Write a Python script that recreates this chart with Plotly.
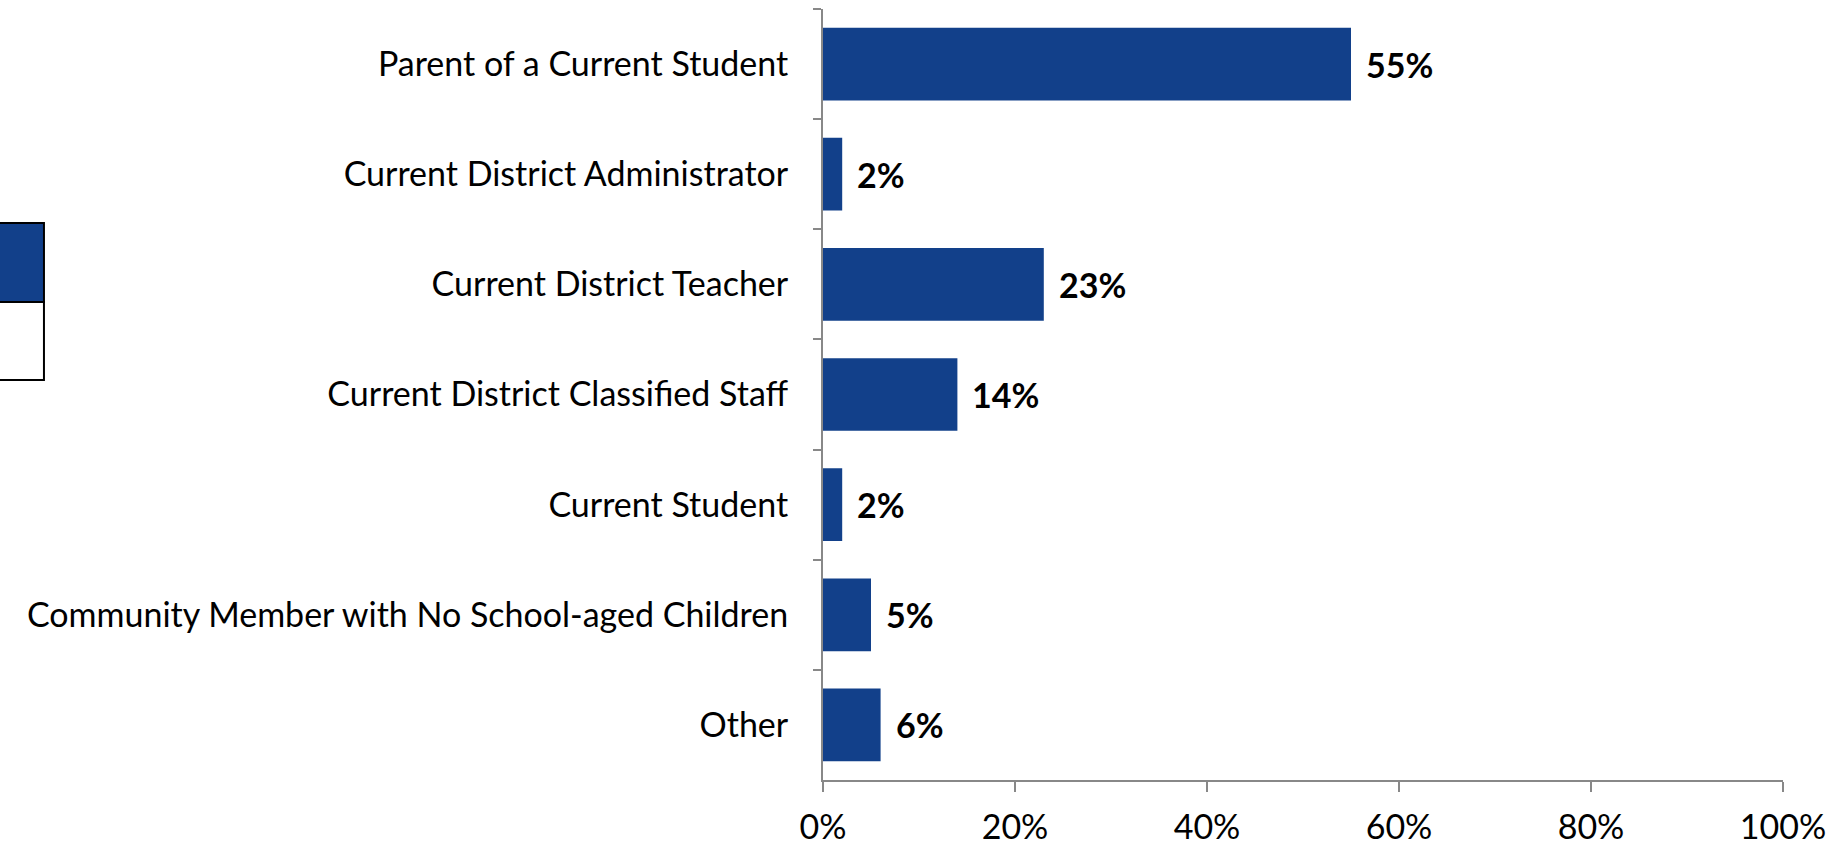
import plotly.graph_objects as go

categories = [
    "Parent of a Current Student",
    "Current District Administrator",
    "Current District Teacher",
    "Current District Classified Staff",
    "Current Student",
    "Community Member with No School-aged Children",
    "Other",
]
values = [0.55, 0.02, 0.23, 0.14, 0.02, 0.05, 0.06]
x_ticks = [0, 0.2, 0.4, 0.6, 0.8, 1.0]

BAR = "#12408A"
FONT = "Lato, Carlito, Calibri, sans-serif"
FS = 34

fig = go.Figure()
fig.add_trace(go.Bar(
    y=categories, x=values, orientation="h",
    marker=dict(color=BAR, line=dict(width=0)),
    hoverinfo="skip",
))

for c, v in zip(categories, values):
    fig.add_annotation(
        x=v, y=c, xref="x", yref="y", text="<b>%d%%</b>" % round(v * 100),
        showarrow=False, xanchor="left", xshift=13,
        font=dict(family=FONT, size=FS, color="black"),
    )

# partial legend box at the left edge
L, R = -0.9, -0.8115
fig.add_shape(type="rect", xref="paper", yref="paper", x0=L, x1=R, y0=0.620, y1=0.7224,
              fillcolor=BAR, line=dict(color="black", width=2), layer="above")
fig.add_shape(type="rect", xref="paper", yref="paper", x0=L, x1=R, y0=0.5188, y1=0.620,
              fillcolor="white", line=dict(color="black", width=2), layer="above")

fig.update_layout(
    width=1848, height=846,
    margin=dict(l=823, r=65, t=9, b=66, autoexpand=False),
    paper_bgcolor="white", plot_bgcolor="white",
    showlegend=False, bargap=0.34,
    font=dict(family=FONT, size=FS, color="black"),
)
fig.update_yaxes(
    autorange="reversed", showline=True, linecolor="#888888", linewidth=2,
    ticks="outside", tickson="boundaries", ticklen=8, tickcolor="#888888", tickwidth=2,
    ticklabelstandoff=26, showgrid=False, zeroline=False, automargin=False,
    tickfont=dict(family=FONT, size=FS, color="black"),
)
fig.update_xaxes(
    range=[0, 1], tickvals=x_ticks, tickformat=".0%",
    showline=True, linecolor="#888888", linewidth=2,
    ticks="outside", ticklen=10, tickcolor="#888888", tickwidth=2,
    ticklabelstandoff=6, showgrid=False, zeroline=False, automargin=False,
    tickfont=dict(family=FONT, size=FS, color="black"),
)

fig.write_html("out.html")
